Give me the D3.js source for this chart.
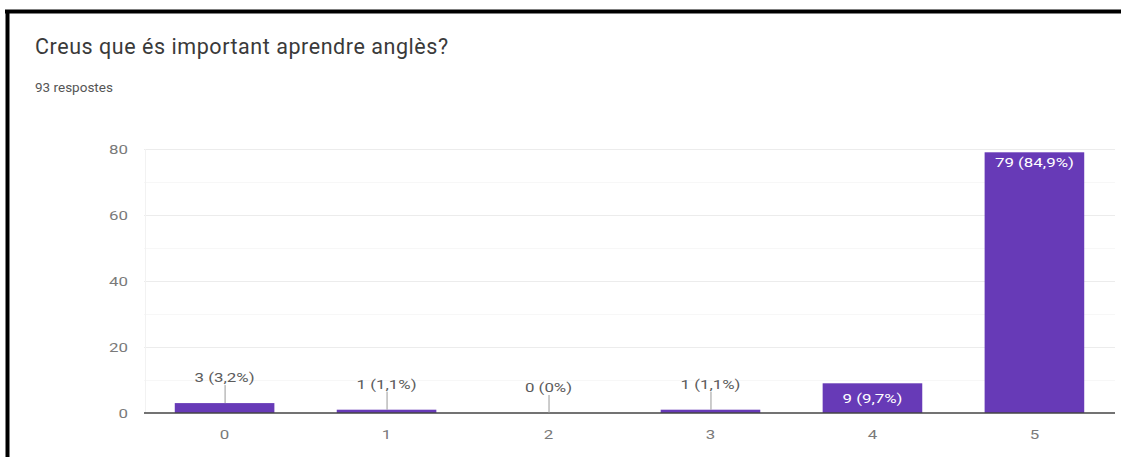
<!DOCTYPE html>
<html>
<head>
<meta charset="utf-8">
<script src="https://cdn.jsdelivr.net/npm/d3@7"></script>
<style>
  html, body { margin: 0; padding: 0; background: #fff; }
  svg { display: block; }
</style>
</head>
<body>
<svg id="chart" width="1121" height="457"></svg>
<script>
// Survey answers on a 0–5 scale
const categories = ["0", "1", "2", "3", "4", "5"];
const counts = [3, 1, 0, 1, 9, 79];
const percentLabels = ["3,2%", "1,1%", "0%", "1,1%", "9,7%", "84,9%"];
const yTicks = [0, 20, 40, 60, 80];
const yMinorTicks = [10, 30, 50, 70];
const titleText = "Creus que és important aprendre anglès?";
const subtitleText = "93 respostes";

const svg = d3.select("#chart");
const W = 1121, H = 457;
const margin = { left: 144, right: 6, top: 149, bottom: 44 };
const font = "Roboto, Arial, sans-serif";
const barColor = "#673ab7";
const stretch = 1.3; // chart labels are drawn slightly wide

// card frame: heavy rule along the top and left edge
svg.append("rect").attr("x", 0).attr("y", 0).attr("width", W).attr("height", H).attr("fill", "#fff");
svg.append("line").attr("x1", 5).attr("x2", W).attr("y1", 11.5).attr("y2", 11.5)
  .attr("stroke", "#000").attr("stroke-width", 4);
svg.append("line").attr("x1", 7.5).attr("x2", 7.5).attr("y1", 10).attr("y2", H)
  .attr("stroke", "#000").attr("stroke-width", 4);

svg.append("text").attr("x", 35).attr("y", 54)
  .attr("font-family", font).attr("font-size", 21.5).attr("letter-spacing", 0.55)
  .attr("fill", "#3a3a3a")
  .text(titleText);
svg.append("text").attr("x", 35).attr("y", 92)
  .attr("font-family", font).attr("font-size", 13.5).attr("fill", "#555")
  .text(subtitleText);

const x = d3.scaleBand().domain(categories)
  .range([margin.left, W - margin.right]).paddingInner(0.385).paddingOuter(0.19);
const y = d3.scaleLinear().domain([0, 80]).range([H - margin.bottom, margin.top]);

// grid
const grid = svg.append("g");
grid.selectAll("line.minor").data(yMinorTicks).join("line")
  .attr("class", "minor")
  .attr("x1", margin.left).attr("x2", W - margin.right)
  .attr("y1", d => Math.round(y(d)) + 0.5).attr("y2", d => Math.round(y(d)) + 0.5)
  .attr("stroke", "#f7f7f7");
grid.selectAll("line.major").data(yTicks.filter(d => d > 0)).join("line")
  .attr("class", "major")
  .attr("x1", margin.left).attr("x2", W - margin.right)
  .attr("y1", d => Math.round(y(d)) + 0.5).attr("y2", d => Math.round(y(d)) + 0.5)
  .attr("stroke", "#ececec");
grid.append("line")
  .attr("x1", margin.left + 1.5).attr("x2", margin.left + 1.5)
  .attr("y1", y(80)).attr("y2", y(0))
  .attr("stroke", "#f2f2f2");

// y axis labels
const yAxis = d3.axisLeft(y).tickValues(yTicks).tickSize(0).tickPadding(0);
const gy = svg.append("g").attr("transform", `translate(${margin.left - 16},0)`).call(yAxis);
gy.select(".domain").remove();
gy.selectAll("text").attr("x", 0).attr("font-family", font).attr("font-size", 13)
  .attr("fill", "#7a7a7a").attr("transform", `scale(${stretch},1)`);

// bars
svg.append("g").selectAll("rect").data(counts).join("rect")
  .attr("x", (d, i) => x(categories[i]))
  .attr("width", x.bandwidth())
  .attr("y", d => y(d))
  .attr("height", d => y(0) - y(d))
  .attr("fill", barColor);

// baseline
svg.append("line")
  .attr("x1", margin.left).attr("x2", W - margin.right)
  .attr("y1", y(0)).attr("y2", y(0))
  .attr("stroke", "#444").attr("stroke-width", 1.5);

// x axis labels
const xAxis = d3.axisBottom(x).tickSize(0).tickPadding(17);
const gx = svg.append("g").attr("transform", `translate(0,${y(0)})`).call(xAxis);
gx.select(".domain").remove();
gx.selectAll("text").attr("font-family", font).attr("font-size", 13)
  .attr("fill", "#7a7a7a").attr("transform", `scale(${stretch},1)`);

// value labels: inside tall bars, above short ones with a leader line
const labels = svg.append("g");
function valueLabel(cx, cy, txt, color) {
  labels.append("text")
    .attr("transform", `translate(${cx},${cy}) scale(${stretch},1)`)
    .attr("text-anchor", "middle").attr("font-family", font).attr("font-size", 13)
    .attr("fill", color).text(txt);
}
counts.forEach((d, i) => {
  const cx = x(categories[i]) + x.bandwidth() / 2;
  const txt = `${d} (${percentLabels[i]})`;
  const barH = y(0) - y(d);
  if (barH > 60) {
    valueLabel(cx, y(d) + 15, txt, "#fff");
  } else if (barH > 22) {
    valueLabel(cx, (y(d) + y(0)) / 2 + 5, txt, "#fff");
  } else {
    const ty = y(d) - 25;
    labels.append("line").attr("x1", cx + 0.5).attr("x2", cx + 0.5)
      .attr("y1", ty + 7).attr("y2", y(d)).attr("stroke", "#999");
    valueLabel(cx, ty + 4, txt, "#5c5c5c");
  }
});
</script>
</body>
</html>
